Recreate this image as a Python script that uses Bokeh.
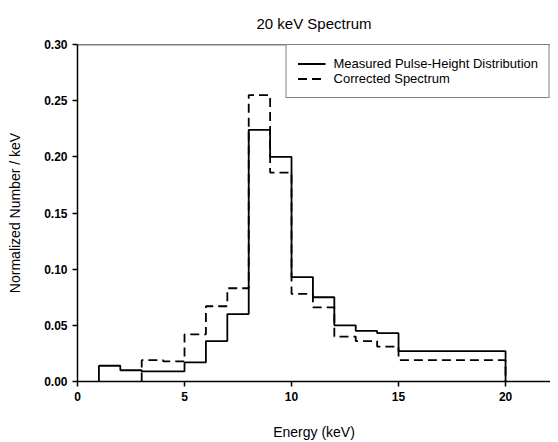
from bokeh.plotting import figure
from bokeh.models import Span, Legend, LegendItem, NumeralTickFormatter, FixedTicker, Range1d
from bokeh.embed import file_html
from bokeh.resources import INLINE

# Measured pulse-height distribution (bin edges and values)
measured_edges = [1, 2, 3, 5, 6, 7, 8, 9, 10, 11, 12, 13, 14, 15, 20]
measured_vals = [0.014, 0.010, 0.009, 0.017, 0.036, 0.060, 0.224, 0.200,
                 0.093, 0.075, 0.050, 0.045, 0.043, 0.027]

# Corrected spectrum
corrected_edges = [3, 4, 5, 6, 7, 8, 9, 10, 11, 12, 13, 14, 15, 20]
corrected_vals = [0.019, 0.018, 0.042, 0.067, 0.083, 0.255, 0.186,
                  0.078, 0.066, 0.040, 0.036, 0.031, 0.019]

x_ticks = [0, 5, 10, 15, 20]
y_ticks = [0.00, 0.05, 0.10, 0.15, 0.20, 0.25, 0.30]

FONT = "Liberation Sans"


def step_xy(edges, vals):
    xs = [edges[0]]
    ys = [0.0]
    for i, v in enumerate(vals):
        xs += [edges[i], edges[i + 1]]
        ys += [v, v]
    xs.append(edges[-1])
    ys.append(0.0)
    return xs, ys


p = figure(width=550, height=442, output_backend="svg", toolbar_location=None,
           x_range=Range1d(0, 22.1), y_range=Range1d(0, 0.30),
           title="20 keV Spectrum",
           min_border_left=77, min_border_right=0, min_border_top=44, min_border_bottom=60)

p.title.align = "center"
p.title.text_font = FONT
p.title.text_font_size = "15px"
p.title.text_font_style = "normal"
p.title.text_color = "black"
p.title.offset = 0
p.title.standoff = 25

p.outline_line_color = None
p.xgrid.visible = False
p.ygrid.visible = False

mx, my = step_xy(measured_edges, measured_vals)
cx, cy = step_xy(corrected_edges, corrected_vals)

r1 = p.line(mx, my, line_color="black", line_width=1.8)
r2 = p.line(cx, cy, line_color="black", line_width=1.8, line_dash="9 5")

top = Span(location=0.30, dimension="width", line_color="black", line_width=1.5)
p.add_layout(top)

for ax in (p.xaxis[0], p.yaxis[0]):
    ax.axis_line_color = "black"
    ax.axis_line_width = 1.5
    ax.major_tick_line_color = "black"
    ax.major_tick_line_width = 1.5
    ax.major_tick_out = 5
    ax.major_tick_in = 0
    ax.minor_tick_line_color = None
    ax.major_label_text_font = FONT
    ax.major_label_text_font_size = "12px"
    ax.major_label_text_font_style = "bold"
    ax.major_label_text_color = "black"
    ax.axis_label_text_font = FONT
    ax.axis_label_text_font_size = "14px"
    ax.axis_label_text_font_style = "normal"
    ax.axis_label_text_color = "black"

p.xaxis[0].ticker = FixedTicker(ticks=x_ticks)
p.yaxis[0].ticker = FixedTicker(ticks=y_ticks)
p.yaxis[0].formatter = NumeralTickFormatter(format="0.00")
p.xaxis[0].axis_label = "Energy (keV)"
p.yaxis[0].axis_label = "Normalized Number / keV"
p.xaxis[0].axis_label_standoff = 20
p.yaxis[0].axis_label_standoff = 18

legend = Legend(items=[
    LegendItem(label="Measured Pulse-Height Distribution", renderers=[r1]),
    LegendItem(label="Corrected Spectrum", renderers=[r2]),
], location="top_right")
legend.border_line_color = "black"
legend.border_line_width = 1.5
legend.background_fill_alpha = 1.0
legend.margin = 0
legend.padding = 11
legend.spacing = 0
legend.label_height = 15
legend.glyph_height = 15
legend.glyph_width = 28
legend.label_standoff = 8
legend.label_text_font = FONT
legend.label_text_font_size = "13px"
legend.label_text_color = "black"
p.add_layout(legend)

open("out.html", "w").write(file_html(p, INLINE))
